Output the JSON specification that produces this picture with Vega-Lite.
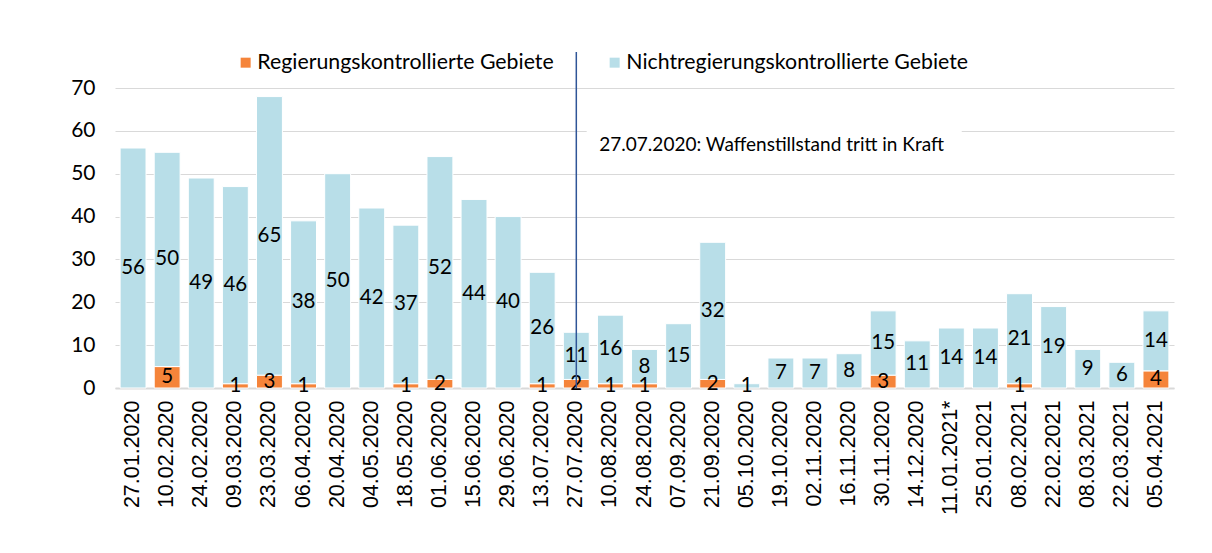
{
  "$schema": "https://vega.github.io/schema/vega-lite/v6.json",
  "width": 1059,
  "height": 300,
  "autosize": {"type": "none"},
  "padding": {"left": 115, "top": 88, "right": 38, "bottom": 165},
  "background": "white",
  "config": {"view": {"stroke": null}, "font": "Lato"},
  "datasets": {
    "counts": [
      {"date": "27.01.2020", "Regierungskontrollierte Gebiete": 0, "Nichtregierungskontrollierte Gebiete": 56},
      {"date": "10.02.2020", "Regierungskontrollierte Gebiete": 5, "Nichtregierungskontrollierte Gebiete": 50},
      {"date": "24.02.2020", "Regierungskontrollierte Gebiete": 0, "Nichtregierungskontrollierte Gebiete": 49},
      {"date": "09.03.2020", "Regierungskontrollierte Gebiete": 1, "Nichtregierungskontrollierte Gebiete": 46},
      {"date": "23.03.2020", "Regierungskontrollierte Gebiete": 3, "Nichtregierungskontrollierte Gebiete": 65},
      {"date": "06.04.2020", "Regierungskontrollierte Gebiete": 1, "Nichtregierungskontrollierte Gebiete": 38},
      {"date": "20.04.2020", "Regierungskontrollierte Gebiete": 0, "Nichtregierungskontrollierte Gebiete": 50},
      {"date": "04.05.2020", "Regierungskontrollierte Gebiete": 0, "Nichtregierungskontrollierte Gebiete": 42},
      {"date": "18.05.2020", "Regierungskontrollierte Gebiete": 1, "Nichtregierungskontrollierte Gebiete": 37},
      {"date": "01.06.2020", "Regierungskontrollierte Gebiete": 2, "Nichtregierungskontrollierte Gebiete": 52},
      {"date": "15.06.2020", "Regierungskontrollierte Gebiete": 0, "Nichtregierungskontrollierte Gebiete": 44},
      {"date": "29.06.2020", "Regierungskontrollierte Gebiete": 0, "Nichtregierungskontrollierte Gebiete": 40},
      {"date": "13.07.2020", "Regierungskontrollierte Gebiete": 1, "Nichtregierungskontrollierte Gebiete": 26},
      {"date": "27.07.2020", "Regierungskontrollierte Gebiete": 2, "Nichtregierungskontrollierte Gebiete": 11},
      {"date": "10.08.2020", "Regierungskontrollierte Gebiete": 1, "Nichtregierungskontrollierte Gebiete": 16},
      {"date": "24.08.2020", "Regierungskontrollierte Gebiete": 1, "Nichtregierungskontrollierte Gebiete": 8},
      {"date": "07.09.2020", "Regierungskontrollierte Gebiete": 0, "Nichtregierungskontrollierte Gebiete": 15},
      {"date": "21.09.2020", "Regierungskontrollierte Gebiete": 2, "Nichtregierungskontrollierte Gebiete": 32},
      {"date": "05.10.2020", "Regierungskontrollierte Gebiete": 0, "Nichtregierungskontrollierte Gebiete": 1},
      {"date": "19.10.2020", "Regierungskontrollierte Gebiete": 0, "Nichtregierungskontrollierte Gebiete": 7},
      {"date": "02.11.2020", "Regierungskontrollierte Gebiete": 0, "Nichtregierungskontrollierte Gebiete": 7},
      {"date": "16.11.2020", "Regierungskontrollierte Gebiete": 0, "Nichtregierungskontrollierte Gebiete": 8},
      {"date": "30.11.2020", "Regierungskontrollierte Gebiete": 3, "Nichtregierungskontrollierte Gebiete": 15},
      {"date": "14.12.2020", "Regierungskontrollierte Gebiete": 0, "Nichtregierungskontrollierte Gebiete": 11},
      {"date": "11.01.2021*", "Regierungskontrollierte Gebiete": 0, "Nichtregierungskontrollierte Gebiete": 14},
      {"date": "25.01.2021", "Regierungskontrollierte Gebiete": 0, "Nichtregierungskontrollierte Gebiete": 14},
      {"date": "08.02.2021", "Regierungskontrollierte Gebiete": 1, "Nichtregierungskontrollierte Gebiete": 21},
      {"date": "22.02.2021", "Regierungskontrollierte Gebiete": 0, "Nichtregierungskontrollierte Gebiete": 19},
      {"date": "08.03.2021", "Regierungskontrollierte Gebiete": 0, "Nichtregierungskontrollierte Gebiete": 9},
      {"date": "22.03.2021", "Regierungskontrollierte Gebiete": 0, "Nichtregierungskontrollierte Gebiete": 6},
      {"date": "05.04.2021", "Regierungskontrollierte Gebiete": 4, "Nichtregierungskontrollierte Gebiete": 14}
    ]
  },
  "layer": [
    {
      "data": {"name": "counts"},
      "transform": [
        {"fold": ["Regierungskontrollierte Gebiete", "Nichtregierungskontrollierte Gebiete"], "as": ["area", "count"]},
        {"filter": "datum.count > 0"}
      ],
      "encoding": {
        "x": {
          "field": "date", "type": "nominal", "sort": null, "title": null,
          "scale": {"paddingInner": 0.24, "paddingOuter": 0.15},
          "axis": {
            "labelAngle": -90, "labelFont": "Liberation Sans", "labelFontSize": 21.5, "labelColor": "black",
            "labelPadding": 12, "ticks": false, "domainColor": "#d9d9d9", "domainWidth": 2,
            "labelAlign": "right", "labelBaseline": "middle"
          }
        },
        "order": {"field": "area", "sort": "descending"}
      },
      "layer": [
        {
          "mark": {"type": "bar", "stroke": "white", "strokeWidth": 1},
          "encoding": {
            "y": {
              "field": "count", "type": "quantitative", "stack": "zero", "title": null,
              "scale": {"domain": [0, 70], "nice": false},
              "axis": {
                "values": [0, 10, 20, 30, 40, 50, 60, 70], "domain": false, "ticks": false,
                "labelFont": "Lato", "labelFontSize": 21, "labelColor": "black", "labelPadding": 20,
                "gridColor": "#d9d9d9", "gridWidth": 1
              }
            },
            "color": {
              "field": "area", "type": "nominal",
              "scale": {
                "domain": ["Regierungskontrollierte Gebiete", "Nichtregierungskontrollierte Gebiete"],
                "range": ["#f5843a", "#b8dee8"]
              },
              "legend": {
                "orient": "none", "legendX": 120, "legendY": -36, "direction": "horizontal", "title": null,
                "symbolType": "square", "symbolSize": 100, "symbolStrokeWidth": 0,
                "labelFont": "Lato", "labelFontSize": 21.3, "labelColor": "black", "labelLimit": 0,
                "columnPadding": 50, "labelOffset": 1
              }
            }
          }
        },
        {
          "mark": {"type": "text", "font": "Lato", "fontSize": 20.5, "color": "black", "baseline": "middle"},
          "encoding": {
            "y": {"field": "count", "type": "quantitative", "stack": "zero", "bandPosition": 0.5},
            "text": {"field": "count", "type": "quantitative"}
          }
        }
      ]
    },
    {
      "data": {"values": [{"from": "27.07.2020", "to": "11.01.2021*"}]},
      "mark": {"type": "rect", "color": "white"},
      "encoding": {
        "x": {"field": "from", "type": "nominal", "sort": null, "bandPosition": 0.9},
        "x2": {"field": "to", "bandPosition": 0.9},
        "y": {"datum": 58},
        "y2": {"datum": 62}
      }
    },
    {
      "data": {"values": [{"date": "27.07.2020", "label": "27.07.2020: Waffenstillstand tritt in Kraft"}]},
      "layer": [
        {
          "mark": {"type": "rule", "color": "#2f5597", "strokeWidth": 1.5},
          "encoding": {
            "x": {"field": "date", "type": "nominal", "sort": null},
            "y": {"datum": 0},
            "y2": {"datum": 78.4}
          }
        },
        {
          "mark": {"type": "text", "font": "Lato", "fontSize": 19, "color": "black", "align": "left", "baseline": "middle", "dx": 23},
          "encoding": {
            "x": {"field": "date", "type": "nominal", "sort": null},
            "y": {"datum": 56.7},
            "text": {"field": "label"}
          }
        }
      ]
    }
  ]
}
